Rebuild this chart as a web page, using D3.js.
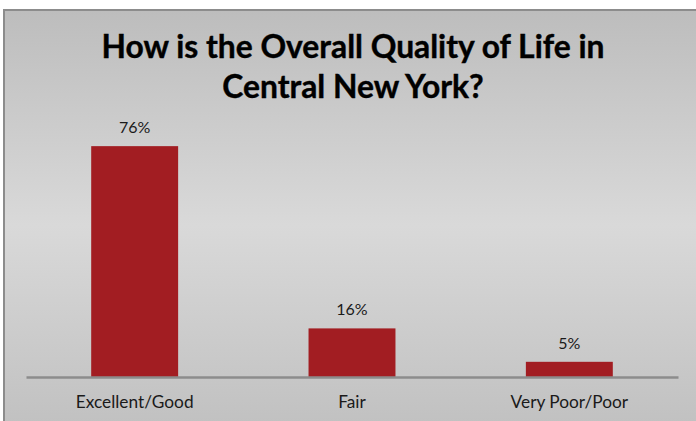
<!DOCTYPE html>
<html>
<head>
<meta charset="utf-8">
<script src="https://cdn.jsdelivr.net/npm/d3@7"></script>
<style>
  html, body { margin: 0; padding: 0; background: #fff; }
  svg { display: block; font-family: Lato, "Open Sans", sans-serif; }
</style>
</head>
<body>
<svg id="chart" width="696" height="421"></svg>
<script>
const categories = ["Excellent/Good", "Fair", "Very Poor/Poor"];
const values = [76, 16, 5];
const titleLines = ["How is the Overall Quality of Life in", "Central New York?"];

const svg = d3.select("#chart");
const width = +svg.attr("width");
const height = +svg.attr("height");

// background gradient, like the office chart area
const defs = svg.append("defs");
const grad = defs.append("linearGradient")
    .attr("id", "bg")
    .attr("x1", 0).attr("y1", 0).attr("x2", 0).attr("y2", 1);
grad.append("stop").attr("offset", "0%").attr("stop-color", "#bdbdbd");
grad.append("stop").attr("offset", "50%").attr("stop-color", "#d9d9d9");
grad.append("stop").attr("offset", "100%").attr("stop-color", "#bfbfbf");

svg.append("rect")
    .attr("x", 4)
    .attr("y", 10)
    .attr("width", width + 10)
    .attr("height", height + 10)
    .attr("fill", "url(#bg)")
    .attr("stroke", "#8c8c8c")
    .attr("stroke-width", 2);

const plotLeft = 26, plotRight = 678, baseY = 377;

const xScale = d3.scaleBand()
    .domain(categories)
    .range([plotLeft, plotRight])
    .paddingInner(0.6)
    .paddingOuter(0.3);

const yScale = d3.scaleLinear()
    .domain([0, 80])
    .range([baseY, 134]);

// fit a text element to a target width
function fitWidth(sel, target) {
    const size = parseFloat(sel.style("font-size"));
    const w = sel.node().getComputedTextLength();
    sel.style("font-size", (size * target / w).toFixed(2) + "px");
}

// title
const titleX = 353;
const t1 = svg.append("text")
    .attr("x", titleX).attr("y", 57.5)
    .attr("text-anchor", "middle")
    .style("font-weight", "bold")
    .style("font-size", "26px")
    .attr("fill", "#000")
    .attr("stroke", "#000")
    .attr("stroke-width", 0.4)
    .text(titleLines[0]);
fitWidth(t1, 503);
svg.append("text")
    .attr("x", titleX).attr("y", 98)
    .attr("text-anchor", "middle")
    .style("font-weight", "bold")
    .style("font-size", t1.style("font-size"))
    .attr("fill", "#000")
    .attr("stroke", "#000")
    .attr("stroke-width", 0.4)
    .text(titleLines[1]);

// bars
svg.selectAll(".bar")
    .data(values)
    .enter()
    .append("rect")
    .attr("class", "bar")
    .attr("x", (d, i) => xScale(categories[i]))
    .attr("y", d => yScale(d))
    .attr("width", xScale.bandwidth())
    .attr("height", d => yScale(0) - yScale(d))
    .attr("fill", "#a21d22");

// value labels
svg.selectAll(".value-label")
    .data(values)
    .enter()
    .append("text")
    .attr("class", "value-label")
    .attr("x", (d, i) => xScale(categories[i]) + xScale.bandwidth() / 2)
    .attr("y", d => yScale(d) - 13)
    .attr("text-anchor", "middle")
    .style("font-size", "16px")
    .attr("fill", "#1a1a1a")
    .text(d => d + "%");

// category axis
const xAxis = svg.append("g")
    .attr("transform", `translate(0,${baseY})`)
    .call(d3.axisBottom(xScale).tickSize(0).tickPadding(0));
xAxis.select(".domain")
    .attr("stroke", "#8c8c8c")
    .attr("stroke-width", 2.5);
xAxis.selectAll("text")
    .attr("y", 31)
    .attr("dy", 0)
    .attr("fill", "#1a1a1a")
    .style("font-family", "Lato, 'Open Sans', sans-serif")
    .style("font-size", "15px");
const first = xAxis.selectAll("text").filter((d, i) => i === 0);
fitWidth(first, 118);
xAxis.selectAll("text").style("font-size", first.style("font-size"));
</script>
</body>
</html>
